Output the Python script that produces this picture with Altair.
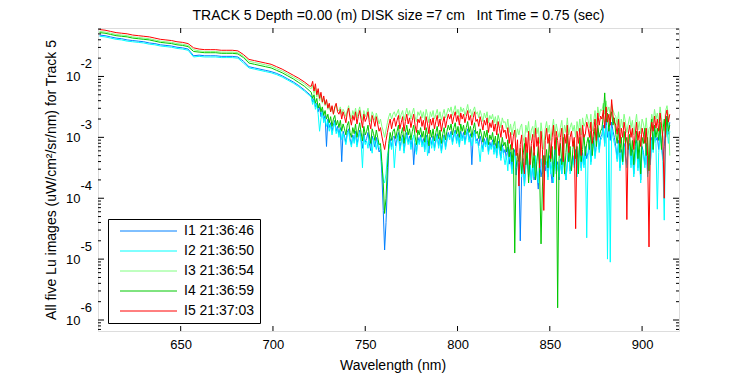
import altair as alt
import pandas as pd

FONT = "Liberation Sans"

title_text = "TRACK 5 Depth =0.00 (m) DISK size =7 cm\u00a0\u00a0 Int Time = 0.75 (sec)"
series_names = ["I1 21:36:46", "I2 21:36:50", "I3 21:36:54", "I4 21:36:59", "I5 21:37:03"]
series_colors = ["#0080FF", "#00FFFF", "#80FF80", "#00C800", "#FF0000"]

x_ticks = [650, 700, 750, 800, 850, 900]
y_major = [1e-6, 1e-5, 1e-4, 1e-3, 1e-2]
y_exponents = ["-6", "-5", "-4", "-3", "-2"]

# wavelength grids (nm): smooth part every 3 nm, noisy part every 0.75 nm
wl_smooth = [606 + 3 * k for k in range(39)]
wl_noisy = [720.75 + 0.75 * k for k in range(260)]

# 100 * log10(radiance)
i1_smooth = [-132, -133, -135, -137, -138, -140, -141, -142, -143, -145,
             -146, -148, -149, -150, -152, -153, -155, -166, -165, -166,
             -166, -166, -167, -167, -167, -168, -175, -184, -186, -188,
             -190, -192, -195, -199, -204, -209, -215, -222, -230]
i2_smooth = [-134, -135, -137, -139, -140, -142, -143, -144, -145, -147,
             -148, -150, -151, -152, -154, -155, -157, -168, -167, -168,
             -168, -168, -169, -169, -169, -170, -178, -186, -188, -190,
             -192, -194, -197, -201, -206, -211, -217, -224, -232]
i3_smooth = [-126, -127, -129, -131, -132, -133, -135, -136, -137, -138,
             -140, -142, -143, -144, -146, -147, -149, -156, -158, -159,
             -159, -159, -160, -160, -160, -161, -167, -175, -177, -179,
             -181, -183, -187, -191, -196, -201, -206, -212, -219]
i4_smooth = [-128, -129, -131, -133, -134, -135, -137, -138, -139, -140,
             -142, -144, -145, -146, -148, -149, -151, -159, -160, -161,
             -161, -161, -162, -162, -162, -163, -169, -178, -180, -182,
             -184, -186, -190, -194, -199, -204, -210, -216, -224]
i5_smooth = [-123, -124, -126, -128, -129, -130, -132, -133, -134, -135,
             -137, -139, -140, -141, -143, -144, -146, -153, -155, -156,
             -156, -156, -157, -157, -157, -158, -164, -172, -174, -176,
             -178, -180, -184, -188, -193, -198, -203, -209, -216]

i1_noisy = [
    -232, -242, -236, -250, -244, -258, -250, -266, -256, -272,
    -264, -315, -270, -284, -276, -290, -280, -272, -290, -282,
    -296, -284, -340, -290, -298, -308, -292, -286, -302, -312,
    -296, -306, -290, -312, -300, -288, -304, -318, -294, -308,
    -302, -292, -310, -322, -298, -306, -316, -300, -312, -324,
    -320, -360, -420, -485, -440, -380, -320, -302, -316, -300,
    -298, -314, -302, -292, -318, -306, -296, -322, -304, -292,
    -308, -298, -316, -302, -345, -310, -324, -300, -308, -296,
    -312, -302, -320, -296, -308, -326, -300, -312, -298, -318,
    -304, -294, -314, -300, -322, -306, -296, -316, -302, -292,
    -300, -290, -308, -296, -288, -306, -294, -312, -290, -302,
    -292, -308, -296, -286, -304, -294, -345, -298, -288, -306,
    -302, -314, -298, -308, -320, -302, -312, -300, -324, -308,
    -316, -304, -324, -310, -330, -306, -318, -334, -312, -326,
    -320, -336, -316, -344, -324, -352, -330, -320, -362, -338,
    -350, -470, -360, -335, -380, -345, -325, -365, -340, -375,
    -345, -370, -335, -360, -385, -340, -365, -350, -330, -355,
    -340, -365, -330, -355, -375, -345, -320, -360, -340, -370,
    -335, -360, -325, -350, -370, -340, -315, -355, -345, -330,
    -345, -320, -360, -335, -310, -350, -325, -345, -315, -335,
    -325, -305, -340, -315, -300, -330, -310, -285, -320, -300,
    -295, -280, -310, -270, -300, -285, -305, -275, -290, -300,
    -315, -335, -305, -350, -320, -340, -310, -330, -345, -315,
    -310, -345, -320, -360, -330, -305, -350, -320, -370, -315,
    -325, -345, -310, -360, -330, -340, -300, -320, -285, -305,
    -300, -320, -290, -310, -335, -315, -280, -265, -295, -275]
i2_noisy = [
    -234, -246, -238, -254, -246, -262, -290, -270, -258, -276,
    -268, -282, -274, -290, -280, -296, -284, -276, -294, -286,
    -300, -288, -304, -294, -302, -312, -296, -290, -306, -316,
    -300, -310, -294, -316, -304, -292, -308, -350, -298, -312,
    -306, -318, -296, -314, -326, -302, -310, -320, -304, -316,
    -322, -345, -370, -375, -360, -330, -318, -306, -320, -304,
    -350, -318, -306, -296, -322, -310, -300, -326, -308, -296,
    -312, -302, -320, -306, -296, -314, -328, -304, -312, -300,
    -316, -306, -324, -300, -330, -312, -304, -318, -302, -322,
    -308, -298, -318, -304, -326, -310, -300, -320, -306, -296,
    -304, -294, -312, -300, -292, -310, -298, -316, -294, -306,
    -296, -312, -300, -290, -308, -298, -314, -302, -292, -310,
    -306, -318, -340, -312, -324, -306, -316, -304, -328, -312,
    -320, -308, -328, -314, -334, -310, -322, -338, -316, -330,
    -345, -330, -355, -320, -340, -360, -335, -325, -350, -338,
    -355, -340, -365, -335, -380, -345, -325, -360, -340, -370,
    -340, -365, -330, -355, -375, -345, -335, -360, -345, -330,
    -345, -370, -335, -360, -340, -375, -330, -355, -345, -365,
    -340, -360, -330, -355, -370, -345, -325, -360, -350, -335,
    -350, -325, -365, -340, -315, -355, -330, -350, -320, -465,
    -330, -310, -345, -320, -305, -335, -315, -290, -325, -305,
    -300, -285, -315, -280, -500, -290, -505, -285, -300, -310,
    -320, -340, -310, -355, -325, -345, -315, -335, -350, -320,
    -315, -350, -325, -365, -335, -310, -355, -325, -375, -320,
    -330, -350, -315, -365, -335, -345, -305, -325, -290, -310,
    -418, -325, -295, -315, -340, -436, -300, -285, -310, -290]
i3_noisy = [
    -220, -214, -228, -218, -234, -224, -240, -230, -244, -236,
    -248, -240, -254, -246, -258, -250, -262, -252, -246, -256,
    -256, -250, -262, -254, -258, -266, -256, -248, -262, -270,
    -256, -264, -252, -268, -258, -250, -264, -272, -256, -266,
    -260, -252, -268, -274, -258, -264, -272, -260, -268, -278,
    -270, -282, -290, -300, -288, -276, -266, -260, -270, -262,
    -258, -266, -260, -254, -270, -262, -256, -272, -262, -252,
    -264, -256, -270, -260, -252, -266, -274, -258, -264, -256,
    -268, -258, -272, -254, -264, -276, -258, -266, -256, -270,
    -262, -254, -268, -258, -272, -262, -254, -268, -260, -252,
    -258, -250, -264, -256, -248, -262, -254, -266, -250, -258,
    -252, -264, -256, -246, -260, -254, -266, -256, -250, -262,
    -258, -268, -256, -264, -274, -260, -268, -258, -276, -264,
    -270, -262, -276, -266, -280, -264, -272, -284, -268, -276,
    -274, -286, -270, -292, -278, -296, -282, -274, -300, -286,
    -296, -284, -278, -300, -310, -280, -292, -274, -305, -288,
    -282, -300, -272, -294, -284, -310, -276, -296, -320, -286,
    -274, -292, -280, -305, -286, -270, -298, -278, -290, -300,
    -284, -272, -300, -280, -292, -268, -296, -284, -276, -290,
    -280, -300, -274, -290, -270, -296, -268, -282, -276, -262,
    -272, -284, -262, -290, -274, -256, -280, -250, -266, -254,
    -256, -244, -262, -240, -258, -250, -264, -246, -255, -262,
    -266, -280, -258, -290, -270, -284, -262, -276, -292, -278,
    -266, -284, -272, -296, -278, -262, -288, -274, -294, -270,
    -278, -292, -268, -300, -286, -282, -262, -276, -254, -270,
    -260, -276, -250, -268, -284, -290, -256, -248, -264, -330]
i4_noisy = [
    -226, -236, -230, -244, -236, -252, -244, -258, -250, -264,
    -256, -270, -262, -276, -266, -282, -270, -264, -280, -272,
    -284, -272, -290, -278, -286, -296, -280, -274, -292, -300,
    -284, -294, -278, -300, -288, -276, -292, -306, -282, -296,
    -290, -280, -298, -310, -286, -294, -305, -288, -300, -312,
    -310, -340, -375, -425, -400, -350, -310, -292, -305, -290,
    -286, -302, -290, -280, -306, -294, -284, -310, -292, -280,
    -296, -286, -304, -290, -280, -298, -312, -288, -296, -284,
    -300, -290, -308, -284, -296, -314, -288, -300, -286, -306,
    -292, -282, -302, -288, -310, -294, -284, -304, -290, -280,
    -288, -278, -296, -284, -276, -294, -282, -300, -278, -290,
    -280, -296, -284, -274, -292, -282, -300, -286, -276, -294,
    -290, -302, -286, -296, -308, -290, -300, -288, -312, -296,
    -304, -292, -312, -298, -318, -294, -306, -322, -300, -314,
    -308, -324, -304, -332, -312, -340, -318, -490, -350, -326,
    -340, -318, -360, -330, -310, -345, -320, -375, -335, -315,
    -350, -325, -370, -340, -315, -360, -475, -380, -330, -345,
    -320, -350, -305, -340, -315, -365, -330, -300, -580, -335,
    -310, -345, -300, -360, -325, -295, -340, -315, -355, -320,
    -305, -335, -315, -360, -300, -340, -320, -295, -330, -310,
    -300, -320, -290, -330, -305, -285, -315, -280, -300, -290,
    -285, -265, -227, -275, -260, -290, -270, -258, -280, -268,
    -295, -310, -285, -325, -300, -340, -290, -310, -300, -320,
    -295, -330, -305, -345, -315, -290, -335, -305, -360, -300,
    -310, -285, -330, -300, -355, -290, -270, -320, -280, -300,
    -285, -305, -275, -320, -290, -270, -300, -265, -290, -280]
i5_noisy = [
    -216, -208, -224, -212, -230, -220, -236, -226, -242, -232,
    -246, -238, -252, -244, -258, -248, -262, -250, -244, -258,
    -262, -254, -270, -258, -266, -276, -260, -252, -268, -280,
    -264, -272, -258, -278, -266, -256, -270, -284, -262, -274,
    -268, -258, -276, -286, -264, -272, -282, -266, -278, -290,
    -284, -298, -310, -320, -305, -292, -280, -270, -286, -274,
    -268, -282, -272, -264, -286, -276, -266, -290, -274, -262,
    -278, -268, -284, -272, -262, -280, -292, -270, -276, -266,
    -282, -272, -288, -266, -278, -294, -270, -280, -268, -286,
    -274, -264, -282, -270, -290, -276, -266, -284, -272, -262,
    -270, -262, -278, -266, -258, -274, -264, -280, -260, -270,
    -262, -276, -266, -256, -272, -264, -280, -268, -258, -274,
    -270, -282, -266, -276, -288, -272, -280, -268, -292, -276,
    -284, -272, -290, -278, -296, -274, -286, -300, -280, -292,
    -288, -302, -284, -310, -292, -320, -298, -288, -330, -304,
    -380, -312, -296, -340, -360, -300, -325, -290, -345, -310,
    -295, -330, -285, -315, -300, -350, -290, -320, -420, -305,
    -285, -310, -295, -335, -300, -280, -320, -290, -305, -330,
    -300, -285, -340, -295, -310, -280, -325, -300, -290, -315,
    -300, -450, -290, -310, -285, -330, -280, -300, -295, -275,
    -285, -300, -275, -310, -290, -270, -305, -260, -280, -265,
    -270, -255, -285, -250, -275, -262, -280, -238, -265, -275,
    -280, -295, -270, -310, -285, -300, -275, -290, -435, -295,
    -280, -300, -285, -320, -295, -275, -305, -290, -315, -285,
    -295, -310, -285, -330, -480, -300, -275, -290, -265, -285,
    -270, -290, -260, -280, -300, -400, -265, -255, -275, -262]

smooth_all = [i1_smooth, i2_smooth, i3_smooth, i4_smooth, i5_smooth]
noisy_all = [i1_noisy, i2_noisy, i3_noisy, i4_noisy, i5_noisy]

rows = []
for name, sm, nz in zip(series_names, smooth_all, noisy_all):
    for w, e in zip(wl_smooth + wl_noisy, sm + nz):
        rows.append({"series": name, "wl": w, "v": 10 ** (e / 100.0)})
df = pd.DataFrame(rows)

y_minor = [k * 10.0 ** d for d in range(-7, -1) for k in range(2, 10)
           if 6.6e-7 <= k * 10.0 ** d <= 0.0625]

W, H = 581, 303
xscale = alt.Scale(domain=[605.2, 920], nice=False, zero=False)
yscale = alt.Scale(type="log", domain=[6.6e-7, 0.0625], nice=False)

xaxis = alt.Axis(values=x_ticks, title="Wavelength (nm)", grid=False,
                 ticks=False, tickSize=0, domain=False, labelFlush=False,
                 labelFont=FONT, labelFontSize=13, labelColor="black",
                 labelPadding=7, titleFont=FONT, titleFontSize=14,
                 titleFontWeight="normal", titleColor="black",
                 titleX=294.5, titleY=27, titleBaseline="top", titleAlign="center")
yaxis = alt.Axis(values=y_major, labelExpr="'10'",
                 title="All five Lu images (uW/cm²/sr/nm) for Track 5",
                 grid=False, ticks=False, tickSize=0, domain=False,
                 labelFont=FONT, labelFontSize=13, labelColor="black",
                 labelPadding=18, labelAlign="right", labelBaseline="middle",
                 titleFont=FONT, titleFontSize=14, titleFontWeight="normal",
                 titleColor="black", titleX=-47, titleY=151.5,
                 titleAngle=270, titleBaseline="middle", titleAlign="center")

xt = pd.DataFrame({"wl": x_ticks})
ymaj = pd.DataFrame({"v": y_major, "e": y_exponents})
ymin = pd.DataFrame({"v": y_minor})
tdf = pd.DataFrame({"t": [title_text]})


def xrule(y0, y1):
    return alt.Chart(xt).mark_rule(color="black", strokeWidth=1).encode(
        x=alt.X("wl:Q", scale=xscale, axis=xaxis),
        y=alt.value(y0), y2=alt.value(y1))


def yrule(data, x0, x1):
    return alt.Chart(data).mark_rule(color="black", strokeWidth=1).encode(
        y=alt.Y("v:Q", scale=yscale, axis=yaxis),
        x=alt.value(x0), x2=alt.value(x1))


lines = alt.Chart(df).mark_line(strokeWidth=1, clip=True).encode(
    x=alt.X("wl:Q", scale=xscale, axis=xaxis),
    y=alt.Y("v:Q", scale=yscale, axis=yaxis),
    color=alt.Color("series:N",
                    scale=alt.Scale(domain=series_names, range=series_colors),
                    legend=alt.Legend(title=None, orient="none", legendX=10, legendY=191,
                                      symbolType="M0,0H10", symbolSize=130,
                                      symbolStrokeWidth=1, labelFont=FONT,
                                      labelFontSize=14, labelColor="black",
                                      labelOffset=57, rowPadding=6, padding=5,
                                      strokeColor="black", fillColor="white",
                                      cornerRadius=0)),
)

exps = alt.Chart(ymaj).mark_text(align="left", baseline="middle", dy=-12,
                                 font=FONT, fontSize=13, color="black").encode(
    y=alt.Y("v:Q", scale=yscale, axis=yaxis),
    x=alt.value(-17.6),
    text="e:N")

title_mark = alt.Chart(tdf).mark_text(align="center", baseline="alphabetic",
                                      font=FONT, fontSize=14, color="black").encode(
    x=alt.value(W / 2 + 10), y=alt.value(-8.5), text="t:N")

chart = alt.layer(
    lines,
    xrule(0, 5), xrule(H - 5, H),
    yrule(ymaj, 0, 6), yrule(ymaj, W - 6, W),
    yrule(ymin, 0, 3), yrule(ymin, W - 3, W),
    exps, title_mark,
).properties(
    width=W, height=H,
    autosize=alt.AutoSizeParams(type="none"),
    padding={"left": 90, "top": 20, "right": 60, "bottom": 45},
).configure_view(stroke="black", strokeWidth=1).configure(background="white")

chart.save("out.html", embed_options={"renderer": "svg", "actions": False})
